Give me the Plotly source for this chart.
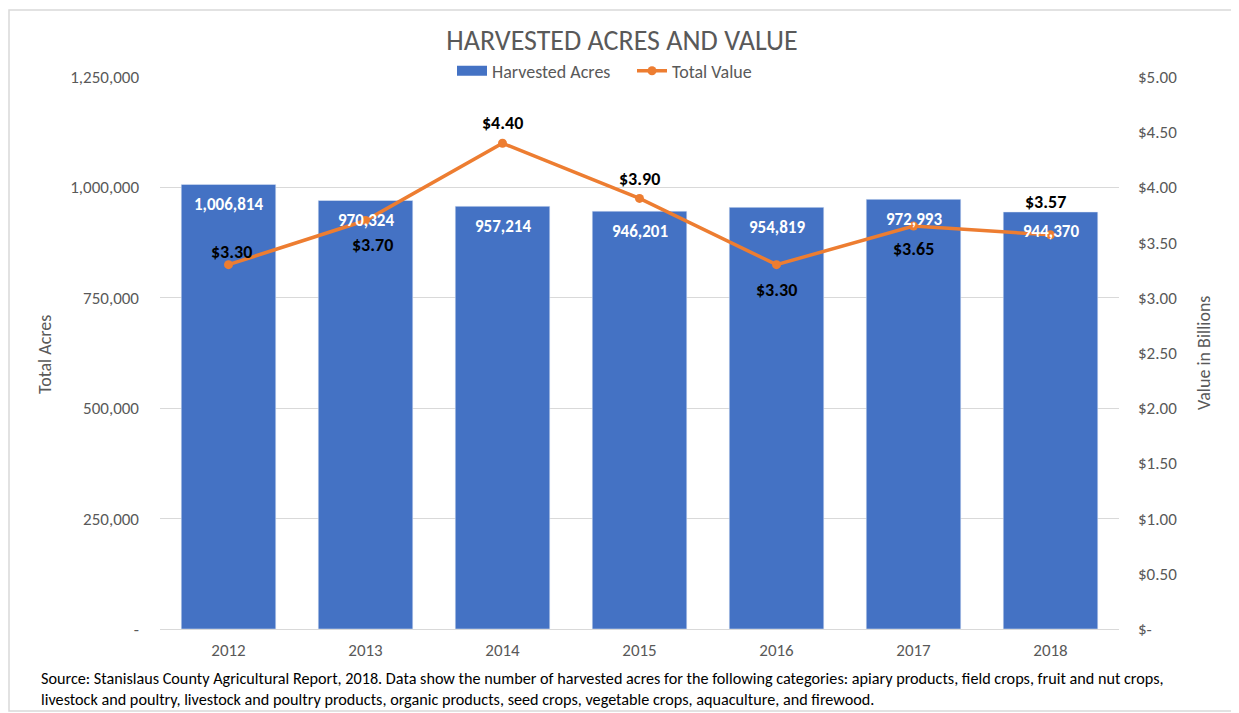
import plotly.graph_objects as go

years = ["2012", "2013", "2014", "2015", "2016", "2017", "2018"]
acres = [1006814, 970324, 957214, 946201, 954819, 972993, 944370]
value = [3.30, 3.70, 4.40, 3.90, 3.30, 3.65, 3.57]
left_ticks = [0, 250000, 500000, 750000, 1000000, 1250000]
left_text = ["-", "250,000", "500,000", "750,000", "1,000,000", "1,250,000"]
right_ticks = [0, 0.5, 1, 1.5, 2, 2.5, 3, 3.5, 4, 4.5, 5]
right_text = ["$-", "$0.50", "$1.00", "$1.50", "$2.00", "$2.50", "$3.00",
              "$3.50", "$4.00", "$4.50", "$5.00"]

# label placement (style): pixel offsets of each value label from its point
value_label_shift = [13, -24, 20, 19, -25, -23, 33]
value_label_xshift = [3, 7, 0, 0, 0, 0, -5]

FONT = "Carlito, Calibri, Lato, sans-serif"
GRAY = "#595959"
BLUE = "#4472C4"
ORANGE = "#ED7D31"

# page body has an 8px margin; size figure so it fits the window
OFF = 8
W, H = 1239 - OFF, 713 - OFF
L, R, T, B = 152, 120, 69, 84
PW, PH = W - L - R, H - T - B


def px_x(x):
    return (x - OFF - L) / PW


def px_y(y):
    return (H - B - (y - OFF)) / PH


fig = go.Figure()
fig.add_trace(go.Bar(
    x=years, y=acres, name="Harvested Acres", marker_color=BLUE,
    showlegend=False,
))
# legend-only entry to mimic a wide bar swatch
fig.add_trace(go.Scatter(
    x=[years[0]], y=[None], name="Harvested Acres", mode="lines",
    line=dict(color=BLUE, width=13), showlegend=True,
))
fig.add_trace(go.Scatter(
    x=years, y=value, name="Total Value", yaxis="y2", mode="lines+markers",
    line=dict(color=ORANGE, width=3.5), marker=dict(color=ORANGE, size=9),
))

annotations = [
    dict(text="Total Acres", textangle=-90, x=px_x(45), y=px_y(355),
         xref="paper", yref="paper", showarrow=False, xanchor="center",
         yanchor="middle", font=dict(size=18, color=GRAY)),
    dict(text="Value in Billions", textangle=-90, x=px_x(1204), y=px_y(353),
         xref="paper", yref="paper", showarrow=False, xanchor="center",
         yanchor="middle", font=dict(size=18, color=GRAY)),
    dict(text="Source: Stanislaus County Agricultural Report, 2018. Data show the number of harvested acres for the following categories: apiary products, field crops, fruit and nut crops,<br>livestock and poultry, livestock and poultry products, organic products, seed crops, vegetable crops, aquaculture, and firewood.",
         x=px_x(39), y=px_y(667), xref="paper", yref="paper",
         xanchor="left", yanchor="top", align="left", showarrow=False,
         font=dict(size=16.2, color="black")),
]
# on a category axis annotation x is the category's index
for i, a in enumerate(acres):
    annotations.append(dict(
        text=f"{a:,}", x=i, y=a, xref="x", yref="y", yshift=-20,
        xanchor="center", yanchor="middle", showarrow=False,
        font=dict(color="white", size=17, family=FONT, weight="bold"),
    ))
for i, (v, dy, dx) in enumerate(zip(value, value_label_shift, value_label_xshift)):
    annotations.append(dict(
        text=f"${v:.2f}", x=i, y=v, xref="x", yref="y2", yshift=dy, xshift=dx,
        xanchor="center", yanchor="middle", showarrow=False,
        font=dict(color="black", size=18, family=FONT, weight="bold"),
    ))

fig.update_layout(
    width=W, height=H,
    margin=dict(l=L, r=R, t=T, b=B),
    paper_bgcolor="white", plot_bgcolor="white",
    font=dict(family=FONT, color=GRAY, size=17),
    title=dict(text="HARVESTED ACRES AND VALUE", x=(622 - OFF) / W, xanchor="center",
               y=1 - (40 - OFF) / H, yanchor="middle", yref="container",
               font=dict(size=28, color=GRAY, family=FONT)),
    bargap=0.31,
    showlegend=True,
    legend=dict(orientation="h", x=px_x(632), xanchor="center", y=px_y(71),
                yanchor="middle", font=dict(size=18, color=GRAY),
                bgcolor="rgba(0,0,0,0)", entrywidth=135),
    xaxis=dict(type="category", categoryorder="array", categoryarray=years,
               showgrid=False, showline=True, linecolor="#d9d9d9",
               tickfont=dict(size=17, color=GRAY), ticks="", ticklabelstandoff=6),
    yaxis=dict(range=[0, 1250000], tickvals=left_ticks, ticktext=left_text,
               showgrid=True, gridcolor="#d9d9d9", zeroline=False,
               tickfont=dict(size=17, color=GRAY), ticks="", ticklabelstandoff=20),
    yaxis2=dict(range=[0, 5], tickvals=right_ticks, ticktext=right_text,
                overlaying="y", side="right", showgrid=False, zeroline=False,
                tickfont=dict(size=17, color=GRAY), ticks="", ticklabelstandoff=18),
    shapes=[dict(type="rect", xref="paper", yref="paper",
                 x0=px_x(9), x1=px_x(1236), y0=px_y(711), y1=px_y(10),
                 line=dict(color="#d9d9d9", width=1.5), layer="below")],
    annotations=annotations,
)

fig.write_html("out.html")
